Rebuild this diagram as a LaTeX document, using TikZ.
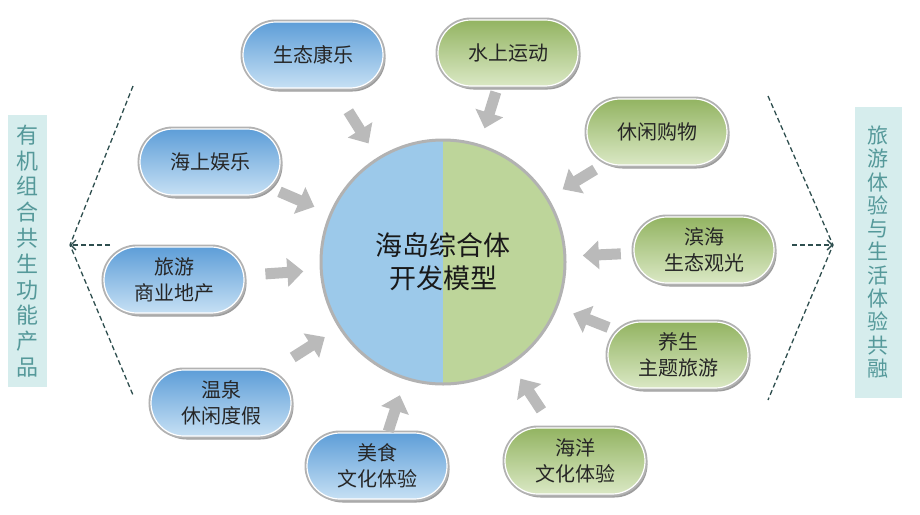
\documentclass[tikz,border=0pt]{standalone}
\usepackage{fontspec}
\setmainfont{Noto Sans CJK SC}
\usetikzlibrary{arrows.meta,calc,shadows}
\definecolor{pillblue}{HTML}{5E9ED8}
\definecolor{pillbluelt}{HTML}{C6E0F4}
\definecolor{pillgreen}{HTML}{93B462}
\definecolor{pillgreenlt}{HTML}{DAE8C4}
\definecolor{hubblue}{HTML}{9CC9EA}
\definecolor{hubgreen}{HTML}{BDD59A}
\definecolor{sidefill}{HTML}{D6EDED}
\definecolor{sidetext}{HTML}{55999A}
\definecolor{dashcol}{HTML}{2E4E4E}
\begin{document}
\begin{tikzpicture}
  [x=1pt,y=-1pt,
   pill/.style={rectangle,rounded corners=33pt,minimum width=140pt,minimum height=66pt,
     align=center,text=black!85,font=\fontsize{20pt}{26pt}\selectfont,
     drop shadow={shadow xshift=2.5pt,shadow yshift=-3.5pt,fill=black!55,opacity=.7},
     preaction={draw=black!30,line width=5pt},draw=white,line width=1.2pt},
   bluepill/.style={pill,top color=pillblue,bottom color=pillbluelt},
   greenpill/.style={pill,top color=pillgreen,bottom color=pillgreenlt},
   sidebox/.style={rectangle,fill=sidefill,text=sidetext,inner sep=0pt,align=center},
   bigarrow/.style={draw=black!27,line width=11pt,-{Triangle[length=16pt,width=28pt]}},
   guide/.style={draw=dashcol,dash pattern=on 5pt off 3pt,line width=1.3pt}]
  \useasboundingbox (0,0) rectangle (920,514);

  \node (hub) at (443,262) [circle,minimum size=244pt,inner sep=0pt,fill=hubgreen,
     draw=black!30,line width=3pt,align=center,text=black!90,
     font=\fontsize{27pt}{33pt}\selectfont,
     path picture={\fill[hubblue] (path picture bounding box.north west)
       rectangle (path picture bounding box.south);}] {海岛综合体\\开发模型};

  \node[bluepill] (p1) at (313,55) {生态康乐};
  \node[greenpill] (p2) at (508,53) {水上运动};
  \node[greenpill] (p3) at (657,132) {休闲购物};
  \node[greenpill] (p4) at (704,250) {滨海\\生态观光};
  \node[greenpill] (p5) at (678,355) {养生\\主题旅游};
  \node[greenpill] (p6) at (575,461) {海洋\\文化体验};
  \node[bluepill] (p7) at (377,466) {美食\\文化体验};
  \node[bluepill] (p8) at (221,403) {温泉\\休闲度假};
  \node[bluepill] (p9) at (174,280) {旅游\\商业地产};
  \node[bluepill] (p10) at (210,162) {海上娱乐};

  \foreach \from in {p1,p2,p3,p4,p5,p6,p7,p8,p9,p10}
    \draw[bigarrow] ($(hub)!178pt!(\from)$) -- ($(hub)!140pt!(\from)$);

  \node[sidebox,minimum width=39pt,minimum height=272pt,
     font=\fontsize{22pt}{25.8pt}\selectfont] (lbox) at (27.5,251)
     {有\\机\\组\\合\\共\\生\\功\\能\\产\\品};
  \node[sidebox,minimum width=47pt,minimum height=291pt,
     font=\fontsize{21pt}{23.3pt}\selectfont] (rbox) at (878,252)
     {旅\\游\\体\\验\\与\\生\\活\\体\\验\\共\\融};

  \coordinate (lt) at (133,86);
  \coordinate (la) at (70,245);
  \coordinate (lb) at (133,395);
  \coordinate (lh) at (110,245);
  \coordinate (rt) at (768,96);
  \coordinate (ra) at (833,245);
  \coordinate (rb) at (768,400);
  \coordinate (rh) at (792,245);
  \draw[guide] (lt) -- (la) -- (lb);
  \draw[guide,-{Straight Barb[length=5pt]}] (lh) -- (la);
  \draw[guide] (rt) -- (ra) -- (rb);
  \draw[guide,-{Straight Barb[length=5pt]}] (rh) -- (ra);

 \end{tikzpicture}
\end{document}
